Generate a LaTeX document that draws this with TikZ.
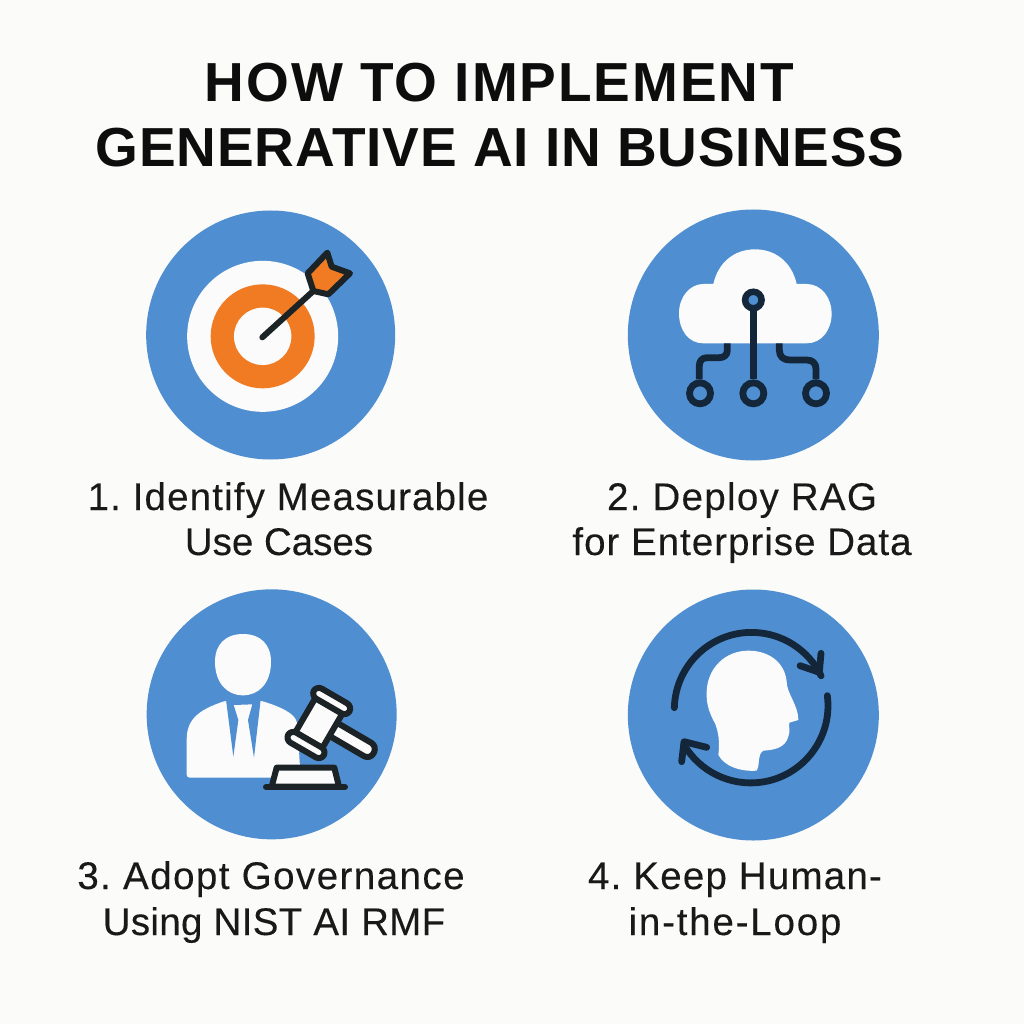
\documentclass[tikz,border=0pt]{standalone}
\usepackage{fontspec}
\setmainfont{Liberation Sans}
\newfontfamily\bodyfont[FakeBold=0.2]{Liberation Sans}
\definecolor{bgc}{HTML}{FBFBF9}
\definecolor{blu}{HTML}{4F8FD1}
\definecolor{org}{HTML}{F07B23}
\definecolor{drk}{HTML}{14273A}
\definecolor{blk}{HTML}{1C2326}
\definecolor{wht}{HTML}{FBFBFB}
\newcommand{\spc}[1]{\addfontfeature{LetterSpace=#1}}
\tikzset{
  ttl/.style={font=\fontsize{55}{55}\selectfont\bfseries,anchor=base,text=black!95,inner sep=0pt},
  lbl/.style={font=\frenchspacing\bodyfont\fontsize{38.5}{38.5}\selectfont,anchor=base,text=black!90,inner sep=0pt},
  wire/.style={draw=drk,line width=6.8pt,line cap=round,line join=round},
  ink/.style={draw=blk,line width=6pt,line join=round,line cap=round},
}
\begin{document}
\begin{tikzpicture}[x=1pt,y=-1pt]
\fill[bgc] (0,0) rectangle (1024,1024);
\useasboundingbox (0,0) rectangle (1024,1024);
\node[ttl] (t1) at (499.5,102) {\spc{3.5}HOW TO IMPLEMENT};
\node[ttl] (t2) at (500,167) {\spc{1.6}GENERATIVE AI IN BUSINESS};
\node[lbl] (a1) at (288,510) {\spc{3}1. Identify Measurable};
\node[lbl] (a2) at (279,555) {Use Cases};
\node[lbl] (b1) at (742,510) {\spc{3.4}2. Deploy RAG};
\node[lbl] (b2) at (742,555) {\spc{2.6}for Enterprise Data};
\node[lbl] (c1) at (271,889) {\spc{3.8}3. Adopt Governance};
\node[lbl] (c2) at (274,935) {\spc{0.9}Using NIST AI RMF};
\node[lbl] (d1) at (735,889) {\spc{3.2}4. Keep Human-};
\node[lbl] (d2) at (735,935) {\spc{4.7}in-the-Loop};
% ---- target
\begin{scope}[shift={(140,205)},x=0.33333pt,y=-0.33333pt]
\fill[blu] (392,390) circle[radius=124.5pt];
\fill[wht] (368,394) circle[radius=75.5pt];
\fill[org] (368,394) circle[radius=52pt];
\fill[wht] (368,394) circle[radius=28.7pt];
\draw[ink] (367,397) -- (520,258);
\draw[ink,fill=org] (503,205) -- (562,143) -- (575,185) -- (630,205) -- (565,268) -- (520,258) -- cycle;
\end{scope}
% ---- cloud
\begin{scope}[shift={(620,205)},x=0.33333pt,y=-0.33333pt]
\fill[blu] (400,390) circle[radius=125.5pt];
\fill[wht] (250,415) .. controls (205,415) and (177,375) .. (177,325)
  .. controls (177,275) and (210,237) .. (250,237) -- (280,237)
  .. controls (295,170) and (345,133) .. (405,133)
  .. controls (465,133) and (515,170) .. (530,237) -- (560,237)
  .. controls (605,237) and (635,280) .. (635,325)
  .. controls (635,375) and (605,415) .. (560,415) -- cycle;
\node[circle,draw=drk,line width=6.5pt,minimum size=16.5pt,inner sep=0pt,fill=blu] (top) at (400,285) {};
\node[circle,draw=drk,line width=6.8pt,minimum size=21pt,inner sep=0pt] (l) at (240,565) {};
\node[circle,draw=drk,line width=6.8pt,minimum size=21pt,inner sep=0pt] (m) at (400,565) {};
\node[circle,draw=drk,line width=6.8pt,minimum size=21pt,inner sep=0pt] (r) at (588,565) {};
\draw[wire,line cap=butt] (top) -- (m);
\draw[wire,line cap=butt] (322,415) -- (322,435) .. controls (322,450) and (312,458) .. (298,458) -- (262,458) .. controls (246,458) and (238,468) .. (238,482) -- (l.north -| 238,0);
\draw[wire,line cap=butt] (478,415) -- (478,435) .. controls (478,455) and (490,465) .. (510,465) -- (560,465) .. controls (578,465) and (588,475) .. (588,492) -- (r);
\end{scope}
% ---- governance
\begin{scope}[shift={(140,585)},x=0.33333pt,y=-0.33333pt]
\fill[blu] (395,388) circle[radius=125pt];
\fill[wht] (309,147) .. controls (255,147) and (225,180) .. (225,230)
  .. controls (225,295) and (262,331) .. (309,331)
  .. controls (356,331) and (393,295) .. (393,230)
  .. controls (393,180) and (363,147) .. (309,147) -- cycle;
\fill[wht,rounded corners=3pt] (140,578) -- (140,460)
  .. controls (145,395) and (190,370) .. (258,347) -- (362,347)
  .. controls (420,365) and (465,385) .. (472,420) -- (482,578) -- cycle;
\fill[blu] (258,344) -- (280,515) -- (295,405) -- (281,360) -- (337,358) -- (324,405) -- (342,518) -- (362,344) -- cycle;
\fill[blu] (394,575) rectangle (490,600);
\draw[ink,fill=wht] (410,548) -- (583,548) -- (597,605) -- (395,605) -- cycle;
\draw[ink] (378,606) -- (615,606);
\draw[ink,fill=wht,rounded corners=7pt] (572,402) -- (712,484) -- (690,524) -- (550,442) -- cycle;
\draw[ink,fill=wht] (526,339) -- (607,386) -- (547,489) -- (466,442) -- cycle;
\draw[ink,fill=wht,rounded corners=6pt] (530,302) -- (637,364) -- (620,394) -- (513,332) -- cycle;
\draw[ink,fill=wht,rounded corners=6pt] (453,434) -- (560,496) -- (543,526) -- (436,464) -- cycle;
\end{scope}
% ---- human loop
\begin{scope}[shift={(620,585)},x=0.33333pt,y=-0.33333pt]
\fill[blu] (400,390) circle[radius=125.5pt];
\fill[wht] (295,510) .. controls (300,470) and (295,440) .. (285,415)
  .. controls (268,385) and (258,355) .. (260,320)
  .. controls (262,250) and (315,197) .. (385,197)
  .. controls (450,197) and (495,235) .. (500,290)
  .. controls (500,325) and (535,360) .. (535,405)
  -- (508,413) .. controls (505,425) and (512,435) .. (505,455)
  .. controls (495,490) and (460,495) .. (430,497)
  .. controls (410,510) and (422,535) .. (410,557)
  .. controls (360,560) and (315,545) .. (295,510) -- cycle;
\draw[wire] (163,368) arc[start angle=178.5,end angle=26,radius=77.3pt];
\draw[wire] (540,242) -- (598,262) -- (603,205);
\draw[wire] (622,332) arc[start angle=7.4,end angle=-149.5,radius=77.3pt];
\draw[wire] (260,487) -- (192,470) -- (185,530);
\end{scope}
\end{tikzpicture}
\end{document}
